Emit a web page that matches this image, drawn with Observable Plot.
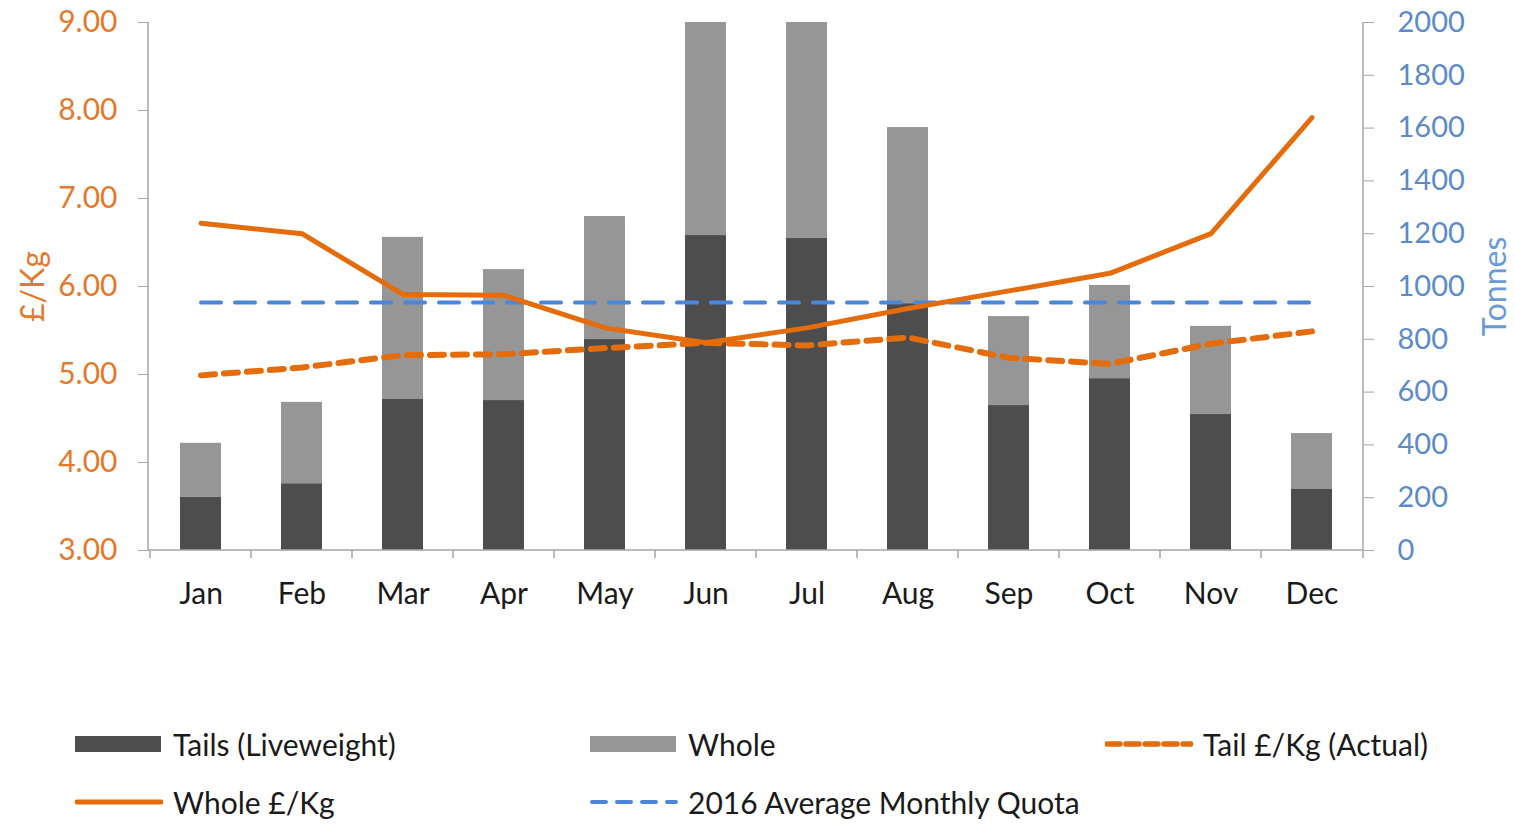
<!DOCTYPE html>
<html><head><meta charset="utf-8">
<script src="https://cdn.jsdelivr.net/npm/d3@7"></script>
<script src="https://cdn.jsdelivr.net/npm/@observablehq/plot@0.6"></script>
<style>
body{margin:0;background:#fff;font-family:Lato,"Open Sans",sans-serif;}
#chart{position:relative;width:1515px;height:825px;overflow:hidden;}
#chart svg.plot{position:absolute;left:0;top:0;}
.item{position:absolute;display:flex;align-items:center;font-size:30px;line-height:34px;color:#1a1a1a;white-space:nowrap;height:34px;}
.item svg{margin-right:10px;}
</style></head><body><div id="chart"></div>
<script>
const months = ["Jan","Feb","Mar","Apr","May","Jun","Jul","Aug","Sep","Oct","Nov","Dec"];
const tails = [201, 253, 572, 568, 799, 1193, 1182, 935, 549, 651, 515, 231];
const whole = [205, 308, 614, 496, 466, 807, 818, 667, 337, 353, 334, 212];
const wholePrice = [6.72, 6.60, 5.91, 5.90, 5.53, 5.36, 5.53, 5.75, 5.95, 6.15, 6.60, 7.92];
const tailPrice = [4.99, 5.08, 5.22, 5.23, 5.30, 5.36, 5.33, 5.42, 5.19, 5.12, 5.35, 5.49];
const quota = 939;
const priceTicks = [3, 4, 5, 6, 7, 8, 9];
const tonneTicks = [0, 200, 400, 600, 800, 1000, 1200, 1400, 1600, 1800, 2000];
const seriesNames = ["Tails (Liveweight)", "Whole"];
const seriesColors = ["#4d4d4d", "#969696"];
const priceMin = 3, priceMax = 9, tonneMax = 2000;

const orangeText = "#E4792B", blueText = "#5B8BC9", orangeLine = "#E46C0A", blueLine = "#4A86DC", axisGray = "#a6a6a6";
const toTonnes = p => (p - priceMin) / (priceMax - priceMin) * tonneMax;
const toPrice = t => priceMin + t / tonneMax * (priceMax - priceMin);

const bars = months.flatMap((m, i) => [
  {month: m, series: seriesNames[0], value: tails[i]},
  {month: m, series: seriesNames[1], value: whole[i]}
]);
const lines = months.map((m, i) => ({month: m, whole: toTonnes(wholePrice[i]), tail: toTonnes(tailPrice[i]), quota}));

const axisLines = (index, scales, values, dims) => {
  const {width, height, marginLeft, marginRight, marginTop, marginBottom} = dims;
  const x0 = marginLeft, x1 = width - marginRight, yb = scales.y(0);
  const g = d3.create("svg:g").attr("stroke", axisGray).attr("stroke-width", 1.5).attr("fill", "none");
  g.append("line").attr("x1", x0).attr("x2", x0).attr("y1", marginTop).attr("y2", yb);
  g.append("line").attr("x1", x1).attr("x2", x1).attr("y1", marginTop).attr("y2", yb);
  g.append("line").attr("x1", x0).attr("x2", x1).attr("y1", yb).attr("y2", yb);
  const bounds = months.map(m => scales.x(m)).concat([x1]);
  for (const bx of bounds) g.append("line").attr("x1", bx).attr("x2", bx).attr("y1", yb).attr("y2", yb + 8);
  return g.node();
};

const plot = Plot.plot({
  width: 1515, height: 640,
  marginLeft: 148, marginRight: 152, marginTop: 22, marginBottom: 90,
  style: {fontFamily: "Lato, 'Open Sans', sans-serif", background: "transparent"},
  x: {type: "band", domain: months, padding: 0, label: null},
  y: {domain: [0, tonneMax], label: null},
  color: {domain: seriesNames, range: seriesColors},
  marks: [
    Plot.barY(bars, {x: "month", y: "value", fill: "series", insetLeft: 30, insetRight: 30}),
    Plot.lineY(lines, {x: "month", y: "quota", stroke: blueLine, strokeWidth: 4, strokeDasharray: "20,14"}),
    Plot.lineY(lines, {x: "month", y: "tail", stroke: orangeLine, strokeWidth: 6, strokeDasharray: "14,9"}),
    Plot.lineY(lines, {x: "month", y: "whole", stroke: orangeLine, strokeWidth: 5}),
    axisLines,
    Plot.axisY(priceTicks.map(toTonnes), {anchor: "left", tickSize: 10, tickPadding: 21, stroke: axisGray, fill: orangeText, fontSize: 30, tickFormat: d => toPrice(d).toFixed(2), label: null}),
    Plot.axisY(tonneTicks, {anchor: "right", tickSize: 10, tickPadding: 24, stroke: axisGray, fill: blueText, fontSize: 29, tickFormat: d => String(d), label: null}),
    Plot.axisX(months, {anchor: "bottom", tickSize: 0, tickPadding: 32, fill: "#1a1a1a", fontSize: 30, label: null}),
    Plot.text(["£/Kg"], {text: d => d, frameAnchor: "left", textAnchor: "middle", dx: -115, rotate: -90, fill: orangeText, fontSize: 32}),
    Plot.text(["Tonnes"], {text: d => d, frameAnchor: "right", textAnchor: "middle", dx: 132, rotate: -90, fill: "#6a9bd8", fontSize: 32})
  ]
});
plot.classList.add("plot");
const chart = document.getElementById("chart");
chart.appendChild(plot);

const legendItems = [
  {label: seriesNames[0], type: "rect", color: seriesColors[0], left: 75, top: 744},
  {label: seriesNames[1], type: "rect", color: seriesColors[1], left: 590, top: 744},
  {label: "Tail £/Kg (Actual)", type: "line", color: orangeLine, dash: "13,6", w: 5.5, left: 1105, top: 744},
  {label: "Whole £/Kg", type: "line", color: orangeLine, dash: null, w: 5, left: 75, top: 802},
  {label: "2016 Average Monthly Quota", type: "line", color: blueLine, dash: "14,11", w: 4, left: 590, top: 802}
];
for (const it of legendItems) {
  const div = document.createElement("div");
  div.className = "item";
  div.style.left = it.left + "px";
  div.style.top = (it.top - 17) + "px";
  const sw = d3.create("svg").attr("width", 88).attr("height", 20);
  if (it.type === "rect") sw.append("rect").attr("x", 0).attr("y", 2).attr("width", 86).attr("height", 16).attr("fill", it.color);
  else sw.append("line").attr("x1", 2).attr("x2", 86).attr("y1", 10).attr("y2", 10).attr("stroke", it.color).attr("stroke-width", it.w).attr("stroke-linecap", "round").attr("stroke-dasharray", it.dash);
  div.appendChild(sw.node());
  const span = document.createElement("span");
  span.textContent = it.label;
  div.appendChild(span);
  chart.appendChild(div);
}
</script></body></html>
